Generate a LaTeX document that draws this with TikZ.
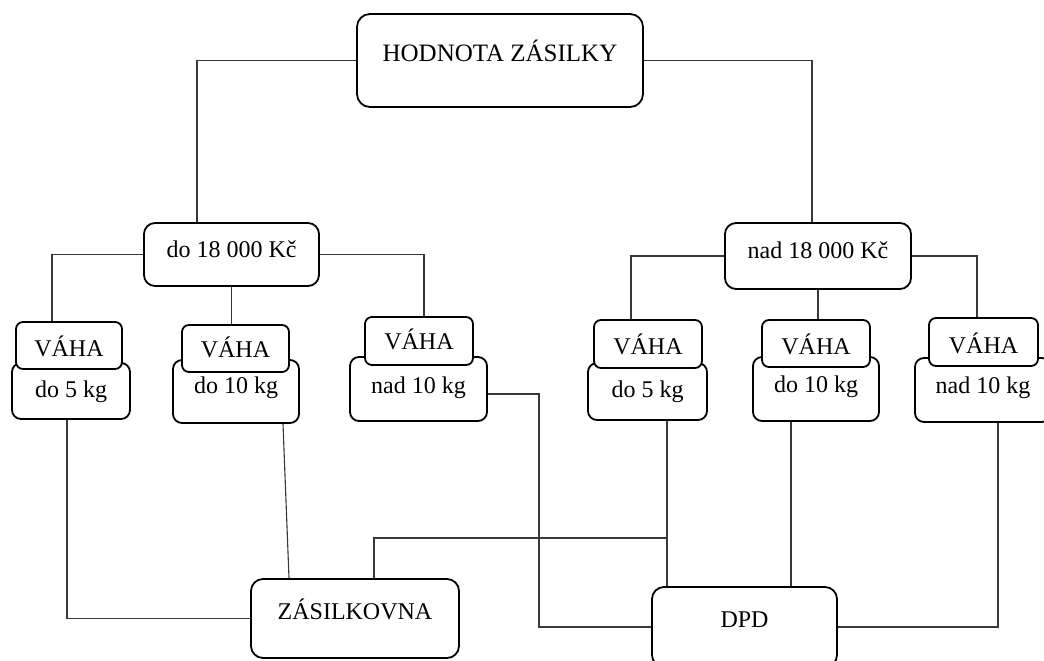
\documentclass[tikz,border=0pt]{standalone}
\usepackage{fontspec}
\usepackage{graphicx}
\setmainfont{Liberation Serif}
\newcommand{\fs}{\fontsize{24}{28}\selectfont}
\newcommand{\bt}[2]{\raisebox{-#1}[0pt][0pt]{#2}}
\begin{document}
\begin{tikzpicture}[x=1pt,y=-1pt,
  box/.style={draw=black, line width=1.8pt, fill=white, inner sep=0pt, rounded corners=#1, font=\fs},
  box/.default=10pt,
  conn/.style={draw=black!78, line width=1.1pt}]
\useasboundingbox (0,0) rectangle (1044,661);
\clip (0,0) rectangle (1044,661);
\fill[white] (0,0) rectangle (1044,661);

% top level
\node[box=13pt, minimum width=286pt, minimum height=93pt, font=\fontsize{25}{29}\selectfont] (top) at (500,60.5) {\bt{1.5pt}{HODNOTA ZÁSILKY}};
\node[box=11pt, minimum width=175pt, minimum height=63pt] (lo) at (231.5,254.5) {\bt{3pt}{do 18 000 Kč}};
\node[box=11pt, minimum width=186pt, minimum height=66pt] (hi) at (818,256) {\bt{2.3pt}{nad 18 000 Kč}};

% weight boxes (lower parts)
\node[box=9pt, minimum width=118pt, minimum height=56pt] (la) at (71,391) {\bt{6pt}{do 5 kg}};
\node[box=9pt, minimum width=126pt, minimum height=63pt] (lb) at (236,391.5) {\bt{1.5pt}{do 10 kg}};
\node[box=9pt, minimum width=137pt, minimum height=64pt] (lc) at (418.5,389) {\bt{4pt}{nad 10 kg}};
\node[box=9pt, minimum width=119pt, minimum height=57pt] (ra) at (647.5,391.5) {\bt{5.5pt}{do 5 kg}};
\node[box=9pt, minimum width=126pt, minimum height=64pt] (rb) at (816,389) {\bt{3pt}{do 10 kg}};
\node[box=9pt, minimum width=136pt, minimum height=64pt] (rc) at (983,390) {\bt{3pt}{nad 10 kg}};

% VÁHA boxes
\node[box=7pt, minimum width=106pt, minimum height=47pt] (va) at (69,345.5) {\bt{10.5pt}{VÁHA}};
\node[box=7pt, minimum width=107pt, minimum height=47pt] (vb) at (235.5,348.5) {\bt{8.5pt}{VÁHA}};
\node[box=7pt, minimum width=108pt, minimum height=48pt] (vc) at (419,341) {\bt{8pt}{VÁHA}};
\node[box=7pt, minimum width=108pt, minimum height=48pt] (vd) at (648,344) {\bt{10pt}{VÁHA}};
\node[box=7pt, minimum width=108pt, minimum height=47pt] (ve) at (816,343.5) {\bt{10.5pt}{VÁHA}};
\node[box=7pt, minimum width=109pt, minimum height=48pt] (vf) at (983.5,342) {\bt{11pt}{VÁHA}};

% carriers
\node[box=12pt, minimum width=208pt, minimum height=79pt] (zas) at (355,618.5) {\bt{1pt}{ZÁSILKOVNA}};
\node[box=12pt, minimum width=185pt, minimum height=80pt] (dpd) at (744.5,627) {\bt{0pt}{DPD}};

% helper coordinates
\coordinate (k1) at (197,0);
\coordinate (k2) at (812,0);
\coordinate (k3) at (52,0);
\coordinate (k5) at (424,0);
\coordinate (k6) at (631,0);
\coordinate (k8) at (977,0);
\coordinate (k9) at (67,0);
\coordinate (k10) at (283,0);
\coordinate (k10b) at (289,0);
\coordinate (k11) at (374,0);
\coordinate (k11y) at (0,538);
\coordinate (k12) at (539,0);
\coordinate (k13) at (667,0);
\coordinate (k14) at (791,0);
\coordinate (k15) at (998,0);

% connectors
\draw[conn] (top.west) -| (k1 |- lo.north);
\draw[conn] (top.east) -| (k2 |- hi.north);
\draw[conn] (lo.west) -| (k3 |- va.north);
\draw[conn] (lo.south) -- (lo.south |- vb.north);
\draw[conn] (lo.east) -| (k5 |- vc.north);
\draw[conn] (hi.west) -| (k6 |- vd.north);
\draw[conn] (hi.south) -- (hi.south |- ve.north);
\draw[conn] (hi.east) -| (k8 |- vf.north);
\draw[conn] (k9 |- la.south) |- (zas.west);
\draw[conn] (k10 |- lb.south) -- (k10b |- zas.north);
\draw[conn] (k11 |- zas.north) |- (k13 |- k11y);
\draw[conn] ([yshift=-5pt]lc.east) -| (k12 |- dpd.west) -- (dpd.west);
\draw[conn] (k13 |- ra.south) -- (k13 |- dpd.north);
\draw[conn] (k14 |- rb.south) -- (k14 |- dpd.north);
\draw[conn] (k15 |- rc.south) |- (dpd.east);
\end{tikzpicture}
\end{document}
